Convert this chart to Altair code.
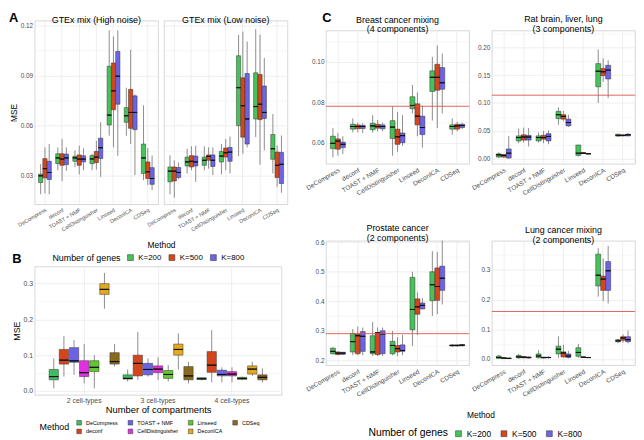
import altair as alt
import pandas as pd

METHODS = ["DeCompress", "deconf", "TOAST + NMF", "CellDistinguisher", "Linseed", "DeconICA", "CDSeq"]
GENES = ["K=200", "K=500", "K=800"]
GENE_COLORS = ["#47C25A", "#D4461B", "#6C63E6"]
COMPARTMENTS = ["2 cell-types", "3 cell-types", "4 cell-types"]
METHOD_COLORS = ["#3DBE63", "#D5451B", "#6B62E6", "#E030E0", "#62C832", "#E3A921", "#8A6A1E"]

# (lower whisker, q1, median, q3, upper whisker); method-major, K=200/500/800
A_HIGH = [
    (0.019, 0.026, 0.030, 0.031, 0.037), (0.0195, 0.0288, 0.0343, 0.0403, 0.047), (0.019, 0.0278, 0.032, 0.0387, 0.049),
    (0.0334, 0.0373, 0.0407, 0.0432, 0.047), (0.0269, 0.0363, 0.040, 0.0432, 0.052), (0.033, 0.0367, 0.0407, 0.043, 0.047),
    (0.0353, 0.0387, 0.0407, 0.0417, 0.0452), (0.0308, 0.0363, 0.040, 0.0425, 0.048), (0.0334, 0.0383, 0.040, 0.042, 0.0465),
    (0.0334, 0.0373, 0.0401, 0.0421, 0.0432), (0.0337, 0.0379, 0.0412, 0.0446, 0.051), (0.0294, 0.0403, 0.0468, 0.0525, 0.062),
    (0.054, 0.0604, 0.0663, 0.0955, 0.117), (0.047, 0.0695, 0.0808, 0.0975, 0.1133), (0.042, 0.0728, 0.0896, 0.1044, 0.117),
    (0.054, 0.062, 0.0659, 0.0708, 0.0827), (0.049, 0.0584, 0.0679, 0.0817, 0.1054), (0.0304, 0.0576, 0.0679, 0.0778, 0.0787),
    (0.0274, 0.0314, 0.0407, 0.049, 0.0722), (0.0245, 0.0284, 0.0324, 0.0383, 0.0466), (0.0215, 0.0249, 0.0284, 0.0349, 0.0422),
]
A_LOW = [
    (0.019, 0.0264, 0.0328, 0.0353, 0.0422), (0.017, 0.0269, 0.0328, 0.0353, 0.0393), (0.028, 0.029, 0.032, 0.035, 0.038),
    (0.0314, 0.0359, 0.0383, 0.0412, 0.0462), (0.0334, 0.0353, 0.0387, 0.0421, 0.0477), (0.0264, 0.0359, 0.0383, 0.0418, 0.048),
    (0.0334, 0.0363, 0.0393, 0.0412, 0.0477), (0.0343, 0.0393, 0.0416, 0.0425, 0.047), (0.0304, 0.0356, 0.0393, 0.0425, 0.047),
    (0.0308, 0.0383, 0.0418, 0.0446, 0.0491), (0.0334, 0.0412, 0.0438, 0.0466, 0.052), (0.0314, 0.0387, 0.0442, 0.047, 0.0535),
    (0.0418, 0.060, 0.0827, 0.1018, 0.1143), (0.0432, 0.0531, 0.0719, 0.0886, 0.1163), (0.047, 0.049, 0.064, 0.0912, 0.1103),
    (0.0531, 0.064, 0.0714, 0.0916, 0.1177), (0.0367, 0.0636, 0.0728, 0.0906, 0.1143), (0.0452, 0.0643, 0.0679, 0.0837, 0.1005),
    (0.0314, 0.0399, 0.0462, 0.0547, 0.0669), (0.0235, 0.029, 0.0363, 0.0442, 0.0482), (0.0199, 0.0254, 0.0369, 0.044, 0.0541),
]
# compartment-major, METHODS order
B_STATS = [
    (0.007, 0.031, 0.040, 0.060, 0.091), (0.040, 0.075, 0.086, 0.116, 0.153), (0.045, 0.080, 0.084, 0.121, 0.142),
    (0.021, 0.040, 0.051, 0.0845, 0.131), (0.007, 0.054, 0.066, 0.0845, 0.100), (0.230, 0.270, 0.284, 0.300, 0.330),
    (0.068, 0.075, 0.082, 0.107, 0.131),
    (0.026, 0.033, 0.035, 0.045, 0.060), (0.031, 0.042, 0.077, 0.100, 0.165), (0.040, 0.045, 0.060, 0.077, 0.091),
    (0.031, 0.051, 0.061, 0.070, 0.094), (0.026, 0.035, 0.046, 0.057, 0.072), (0.060, 0.100, 0.116, 0.131, 0.161),
    (0.021, 0.031, 0.042, 0.068, 0.081),
    (0.029, 0.032, 0.034, 0.037, 0.038), (0.024, 0.052, 0.072, 0.110, 0.170), (0.024, 0.042, 0.046, 0.058, 0.066),
    (0.024, 0.042, 0.047, 0.054, 0.066), (0.030, 0.032, 0.035, 0.038, 0.040), (0.042, 0.047, 0.061, 0.070, 0.082),
    (0.024, 0.031, 0.038, 0.045, 0.063),
]
BREAST = [
    (0.0528, 0.0571, 0.0597, 0.0632, 0.0672), (0.0536, 0.0568, 0.0608, 0.0619, 0.0648), (0.0544, 0.0576, 0.0592, 0.0603, 0.0632),
    (0.0651, 0.0667, 0.068, 0.0691, 0.072), (0.0651, 0.0669, 0.068, 0.0688, 0.070), (0.0648, 0.067, 0.068, 0.0686, 0.0696),
    (0.0651, 0.0664, 0.0683, 0.0696, 0.0736), (0.0656, 0.0672, 0.068, 0.0691, 0.0712), (0.0656, 0.0669, 0.068, 0.0688, 0.0699),
    (0.0536, 0.0621, 0.0677, 0.0709, 0.0779), (0.0555, 0.0592, 0.0629, 0.0667, 0.0752), (0.0584, 0.060, 0.0635, 0.0648, 0.0736),
    (0.0744, 0.0768, 0.0784, 0.0827, 0.0885), (0.0632, 0.0688, 0.0731, 0.0792, 0.0848), (0.0576, 0.064, 0.0675, 0.0731, 0.0784),
    (0.0709, 0.0853, 0.0923, 0.0955, 0.1024), (0.0672, 0.0859, 0.0923, 0.0987, 0.108), (0.0744, 0.0864, 0.0896, 0.0971, 0.104),
    (0.064, 0.0667, 0.068, 0.0688, 0.072), (0.0656, 0.0667, 0.0683, 0.0691, 0.0704), (0.0667, 0.0675, 0.0685, 0.0691, 0.0699),
]
RAT = [
    (0.0012, 0.003, 0.007, 0.0088, 0.0118), (0.002, 0.003, 0.006, 0.0076, 0.009), (0.0, 0.0012, 0.010, 0.0176, 0.041),
    (0.028, 0.032, 0.038, 0.041, 0.054), (0.029, 0.0335, 0.039, 0.043, 0.056), (0.022, 0.0335, 0.039, 0.042, 0.055),
    (0.029, 0.032, 0.038, 0.041, 0.047), (0.028, 0.035, 0.038, 0.042, 0.050), (0.026, 0.032, 0.040, 0.045, 0.051),
    (0.061, 0.072, 0.079, 0.085, 0.092), (0.068, 0.071, 0.076, 0.079, 0.086), (0.057, 0.059, 0.065, 0.071, 0.079),
    (0.004, 0.006, 0.010, 0.0247, 0.025), (0.009, 0.0095, 0.010, 0.011, 0.012), (0.0075, 0.0085, 0.009, 0.0095, 0.010),
    (0.100, 0.129, 0.157, 0.1706, 0.196), (0.138, 0.149, 0.156, 0.162, 0.180), (0.109, 0.143, 0.159, 0.1676, 0.1765),
    (0.039, 0.0406, 0.042, 0.044, 0.045), (0.040, 0.041, 0.0418, 0.043, 0.044), (0.040, 0.041, 0.043, 0.044, 0.046),
]
PROSTATE = [
    (0.219, 0.222, 0.230, 0.241, 0.244), (0.217, 0.219, 0.224, 0.228, 0.230), (0.217, 0.220, 0.224, 0.227, 0.228),
    (0.217, 0.228, 0.263, 0.291, 0.306), (0.217, 0.222, 0.283, 0.289, 0.314), (0.217, 0.230, 0.281, 0.297, 0.311),
    (0.214, 0.222, 0.228, 0.283, 0.330), (0.214, 0.219, 0.292, 0.294, 0.311), (0.214, 0.222, 0.289, 0.300, 0.311),
    (0.217, 0.222, 0.250, 0.264, 0.300), (0.214, 0.228, 0.239, 0.250, 0.278), (0.217, 0.230, 0.233, 0.252, 0.286),
    (0.248, 0.303, 0.372, 0.481, 0.500), (0.286, 0.356, 0.381, 0.408, 0.430), (0.372, 0.374, 0.386, 0.394, 0.411),
    (0.350, 0.402, 0.456, 0.500, 0.570), (0.356, 0.403, 0.450, 0.513, 0.567), (0.389, 0.437, 0.478, 0.519, 0.606),
    (0.245, 0.248, 0.250, 0.252, 0.255), (0.246, 0.248, 0.250, 0.252, 0.254), (0.246, 0.249, 0.251, 0.253, 0.255),
]
LUNG = [
    (0.0, 0.002, 0.005, 0.010, 0.014), (0.001, 0.002, 0.003, 0.004, 0.005), (0.001, 0.0015, 0.002, 0.003, 0.004),
    (0.0, 0.004, 0.007, 0.012, 0.017), (0.002, 0.004, 0.006, 0.008, 0.010), (0.001, 0.003, 0.005, 0.007, 0.008),
    (0.002, 0.004, 0.010, 0.017, 0.030), (0.002, 0.003, 0.005, 0.006, 0.007), (0.002, 0.004, 0.005, 0.006, 0.008),
    (0.004, 0.017, 0.033, 0.043, 0.076), (0.004, 0.007, 0.020, 0.024, 0.048), (0.002, 0.005, 0.010, 0.017, 0.027),
    (0.004, 0.009, 0.022, 0.038, 0.051), (0.004, 0.005, 0.006, 0.007, 0.008), (0.003, 0.004, 0.005, 0.005, 0.006),
    (0.210, 0.246, 0.282, 0.353, 0.373), (0.195, 0.231, 0.269, 0.279, 0.338), (0.187, 0.231, 0.297, 0.328, 0.381),
    (0.053, 0.058, 0.061, 0.065, 0.068), (0.055, 0.063, 0.071, 0.075, 0.083), (0.053, 0.058, 0.065, 0.075, 0.096),
]
# red reference lines of panel C
REF_BREAST, REF_RAT, REF_PROSTATE, REF_LUNG = 0.078, 0.114, 0.29, 0.16

# y limits and gridline breaks
A_YLIM = [0.013, 0.1228]
A_MAJOR, A_MINOR = [0.03, 0.06, 0.09, 0.12], [0.015, 0.045, 0.075, 0.105]
B_YLIM = [-0.011, 0.348]
B_MAJOR, B_MINOR = [0.0, 0.1, 0.2, 0.3], [0.05, 0.15, 0.25]
BREAST_YLIM = [0.0496, 0.1154]
BREAST_MAJOR, BREAST_MINOR = [0.06, 0.08, 0.10], [0.05, 0.07, 0.09, 0.11]
RAT_YLIM = [-0.009, 0.23]
RAT_MAJOR, RAT_MINOR = [0.0, 0.05, 0.1, 0.15, 0.2], [0.025, 0.075, 0.125, 0.175, 0.225]
PROSTATE_YLIM = [0.183, 0.605]
PROSTATE_MAJOR, PROSTATE_MINOR = [0.2, 0.3, 0.4, 0.5, 0.6], [0.25, 0.35, 0.45, 0.55]
LUNG_YLIM = [-0.021, 0.398]
LUNG_MAJOR, LUNG_MINOR = [0.0, 0.1, 0.2, 0.3], [0.05, 0.15, 0.25, 0.35]

FONT = "Liberation Sans"
GRID = "#EBEBEB"


def make_df(stats, cats, groups, cname, gname):
    rows = []
    k = 0
    for c in cats:
        for g in groups:
            lo, q1, md, q3, hi = stats[k]
            k += 1
            rows.append({cname: c, gname: g, "lo": lo, "q1": q1, "med": md, "q3": q3, "hi": hi})
    return pd.DataFrame(rows)


def y_axis(majors, minors, fmt, show=True, title=None, size=6.5, tsize=8.5):
    test = "(" + " || ".join(f"abs(datum.value - {float(m)!r}) < 0.000001" for m in majors) + ")"
    return alt.Axis(values=sorted(majors + minors), labels=show, title=title,
                    labelExpr=f"{test} ? format(datum.value, '{fmt}') : ''",
                    ticks=False, domain=False, grid=True, gridColor=GRID,
                    gridWidth={"condition": {"test": test, "value": 0.8}, "value": 0.4},
                    labelFontSize=size, titleFontSize=tsize, labelPadding=2, titlePadding=2,
                    labelOverlap=False, labelColor="#4D4D4D")


def x_axis_methods(size=6, title=None, title_x=None, tpad=8):
    kw = dict(labelAngle=-30, labelAlign="right", labelBaseline="top", labelFontSize=size,
              labelColor="#4D4D4D", ticks=False, domain=False, grid=True, gridColor=GRID,
              gridWidth=0.8, labelPadding=3, labelOverlap=False, title=title)
    if title is not None:
        kw.update(titleFontSize=8.5, titleX=title_x, titlePadding=tpad)
    return alt.Axis(**kw)


def box_panel(df, cfield, cats, gfield, groups, colors, ydom, yax, xax, w, h,
              pin, pout, opad, legend=None, title=None, extra=()):
    base = alt.Chart(df).encode(
        x=alt.X(f"{cfield}:N", sort=cats,
                scale=alt.Scale(domain=cats, paddingInner=pin, paddingOuter=pout), axis=xax),
        xOffset=alt.XOffset(f"{gfield}:N", sort=groups,
                            scale=alt.Scale(domain=groups, paddingInner=opad, paddingOuter=opad / 2)),
    )
    ys = alt.Scale(domain=ydom, nice=False, zero=False)
    whisker = base.mark_rule(color="#808080", strokeWidth=0.9).encode(
        y=alt.Y("lo:Q", scale=ys, axis=yax), y2="hi:Q")
    box = base.mark_bar(stroke="#333333", strokeWidth=0.5).encode(
        y=alt.Y("q1:Q", scale=ys, axis=yax), y2="q3:Q",
        color=alt.Color(f"{gfield}:N", scale=alt.Scale(domain=groups, range=colors), legend=legend))
    median = base.mark_bar(stroke="#111111", strokeWidth=1, fillOpacity=0).encode(
        y=alt.Y("med:Q", scale=ys, axis=yax), y2="med:Q")
    layers = [whisker, box, median]
    for e in extra:
        layers.append(e(ys, yax))
    chart = alt.layer(*layers).properties(width=w, height=h)
    if title is not None:
        chart = chart.properties(title=title)
    return chart


def ref_line(value):
    def f(ys, yax):
        return alt.Chart(pd.DataFrame({"ref": [value]})).mark_rule(
            color="#D9534F", strokeWidth=0.9).encode(y=alt.Y("ref:Q", scale=ys, axis=yax))
    return f


def gene_legend_layer(legend):
    def f(ys, yax):
        return alt.Chart(pd.DataFrame({"K": GENES, "base": 0.0})).mark_bar(strokeWidth=0).encode(
            y=alt.Y("base:Q", scale=ys, axis=yax), y2="base:Q",
            fill=alt.Fill("K:N", scale=alt.Scale(domain=GENES, range=GENE_COLORS), legend=legend))
    return f


def ptitle(text, size=9.5):
    return alt.TitleParams(text, fontSize=size, fontWeight="normal", offset=-4, lineHeight=10, font=FONT)


def letter(text, offset, dx=0):
    return alt.TitleParams(text, anchor="start", fontSize=13, fontWeight="bold", offset=offset, dx=dx, font=FONT)


def top_anchor():
    # invisible, zero-extent view that pins the top edge of a column
    return alt.Chart(pd.DataFrame({"v": [0.0]})).mark_point(opacity=0, size=0, strokeWidth=0).encode(
        x=alt.X("v:Q", axis=None), y=alt.Y("v:Q", axis=None)).properties(
        width=1, height=1, view=alt.ViewBackground(strokeOpacity=0))


IND = dict(x="independent", y="independent", color="independent", fill="independent", xOffset="independent")

# ---- Panel A ----
A_W, A_H, A_SP = 125, 186, 6
a1 = box_panel(make_df(A_HIGH, METHODS, GENES, "method", "K"), "method", METHODS, "K", GENES, GENE_COLORS,
               A_YLIM, y_axis(A_MAJOR, A_MINOR, ".2f", True, "MSE"),
               x_axis_methods(5.5, "Method", A_W + A_SP / 2, 8), A_W, A_H, 0.25, 0.225, 0,
               title=ptitle("GTEx mix (High noise)", 9))
a2 = box_panel(make_df(A_LOW, METHODS, GENES, "method", "K"), "method", METHODS, "K", GENES, GENE_COLORS,
               A_YLIM, y_axis(A_MAJOR, A_MINOR, ".2f", False, None),
               x_axis_methods(5.5), A_W, A_H, 0.25, 0.225, 0,
               title=ptitle("GTEx mix (Low noise)", 9))
a_row = alt.hconcat(a1, a2, spacing=A_SP, bounds="flush").resolve_scale(**IND).properties(
    title=letter("A", -10))

# ---- Panel B ----
gene_leg_b = alt.Legend(title="Number of genes", orient="none", legendX=18, legendY=-13, direction="horizontal",
                        titleOrient="left", titleFontSize=9, titleFontWeight="normal", labelFontSize=8,
                        symbolType="square", symbolSize=36, symbolStrokeColor="#333333", symbolStrokeWidth=0.5,
                        columnPadding=6, titlePadding=5, titleBaseline="middle")
method_leg = alt.Legend(title="Method", orient="none", legendX=5, legendY=155, columns=4,
                        titleOrient="left", titleFontSize=9, titleFontWeight="normal", labelFontSize=5.5,
                        symbolType="square", symbolSize=22, symbolStrokeColor="#333333", symbolStrokeWidth=0.5,
                        rowPadding=1, columnPadding=8, titlePadding=6, titleBaseline="middle")
b_x = alt.Axis(labelAngle=0, labelFontSize=7, labelColor="#4D4D4D", ticks=False, domain=False, grid=True,
               gridColor=GRID, gridWidth=0.8, labelPadding=2, title="Number of compartments",
               titleFontSize=9.5, titlePadding=1)
b_chart = box_panel(make_df(B_STATS, COMPARTMENTS, METHODS, "comp", "method"), "comp", COMPARTMENTS,
                    "method", METHODS, METHOD_COLORS, B_YLIM,
                    y_axis(B_MAJOR, B_MINOR, ".1f", True, "MSE", size=7, tsize=9),
                    b_x, 250, 130, 0.04, 0.19, 0.08, legend=method_leg,
                    extra=[gene_legend_layer(gene_leg_b)], title=letter("B", -12))

left_body = alt.vconcat(a_row, b_chart, spacing=2).resolve_scale(**IND)
left = alt.vconcat(top_anchor(), left_body, spacing=0).resolve_scale(**IND)

# ---- Panel C ----
C_W, C_SP = 145, 23
gene_leg_c = alt.Legend(title="Number of genes", orient="none", legendX=43, legendY=191, direction="horizontal",
                        titleOrient="left", titleFontSize=10.5, titleFontWeight="normal", labelFontSize=8.5,
                        symbolType="square", symbolSize=36, symbolStrokeColor="#333333", symbolStrokeWidth=0.5,
                        columnPadding=8, titlePadding=6, titleBaseline="middle")
breast = box_panel(make_df(BREAST, METHODS, GENES, "method", "K"), "method", METHODS, "K", GENES, GENE_COLORS,
                   BREAST_YLIM, y_axis(BREAST_MAJOR, BREAST_MINOR, ".2f"), x_axis_methods(6.5), C_W, 135,
                   0.25, 0.225, 0, title=ptitle(["Breast cancer mixing", "(4 components)"], 9),
                   extra=[ref_line(REF_BREAST)])
rat = box_panel(make_df(RAT, METHODS, GENES, "method", "K"), "method", METHODS, "K", GENES, GENE_COLORS,
                RAT_YLIM, y_axis(RAT_MAJOR, RAT_MINOR, ".2f"), x_axis_methods(6.5), C_W, 135,
                0.25, 0.225, 0, title=ptitle(["Rat brain, liver, lung", "(3 components)"], 9),
                extra=[ref_line(REF_RAT)])
prostate = box_panel(make_df(PROSTATE, METHODS, GENES, "method", "K"), "method", METHODS, "K", GENES, GENE_COLORS,
                     PROSTATE_YLIM, y_axis(PROSTATE_MAJOR, PROSTATE_MINOR, ".1f"),
                     x_axis_methods(6.5, "Method", C_W + C_SP / 2, 13), C_W, 126,
                     0.25, 0.225, 0, legend=gene_leg_c,
                     title=ptitle(["Prostate cancer", "(2 components)"], 9),
                     extra=[ref_line(REF_PROSTATE)])
lung = box_panel(make_df(LUNG, METHODS, GENES, "method", "K"), "method", METHODS, "K", GENES, GENE_COLORS,
                 LUNG_YLIM, y_axis(LUNG_MAJOR, LUNG_MINOR, ".1f"), x_axis_methods(6.5), C_W, 126,
                 0.25, 0.225, 0, title=ptitle(["Lung cancer mixing", "(2 components)"], 9),
                 extra=[ref_line(REF_LUNG)])
c_row1 = alt.hconcat(breast, rat, spacing=C_SP, bounds="flush").resolve_scale(**IND)
c_row2 = alt.hconcat(prostate, lung, spacing=C_SP, bounds="flush").resolve_scale(**IND)
right_body = alt.vconcat(c_row1, c_row2, spacing=27).resolve_scale(**IND).properties(
    title=letter("C", -10, 18))
right = alt.vconcat(top_anchor(), right_body, spacing=0).resolve_scale(**IND)

chart = alt.concat(left, right, columns=2, align="none", spacing=16).resolve_scale(**IND).properties(
    padding=0).configure(font=FONT).configure_view(stroke="#CCCCCC", strokeWidth=0.8).configure_axis(
    titleFontWeight="normal", titleColor="#000000").configure_title(color="#000000").configure_legend(
    labelColor="#000000", titleColor="#000000")

chart.save("out.html", embed_options={"renderer": "svg", "actions": False})
